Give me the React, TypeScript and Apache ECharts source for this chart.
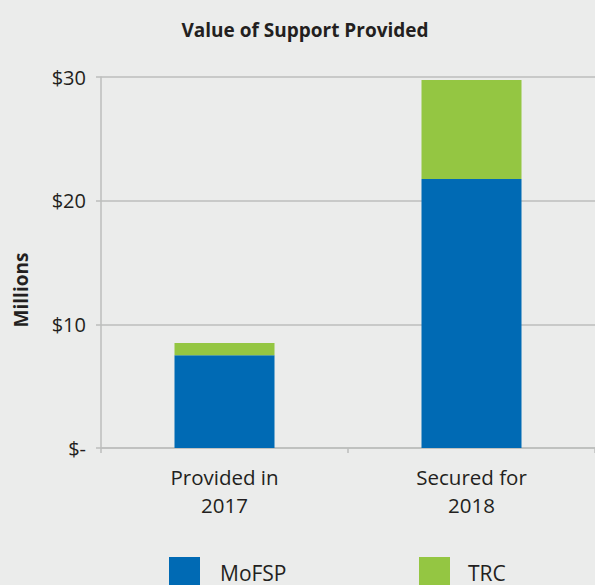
import React, { useEffect, useRef } from "react";
import * as echarts from "echarts";

const categories = ["Provided in\n2017", "Secured for\n2018"];
const mofsp = [7.5, 21.75];
const trc = [1.0, 8.0];
const yTicks = [0, 10, 20, 30];

export default function App() {
  const ref = useRef<HTMLDivElement>(null);
  useEffect(() => {
    if (!ref.current) return;
    const chart = echarts.init(ref.current, null, { renderer: "svg" });
    const font = "'Open Sans', 'Noto Sans', sans-serif";
    chart.setOption({
      animation: false,
      backgroundColor: "#EBECEB",
      textStyle: { fontFamily: font, color: "#231F20" },
      title: {
        text: "Value of Support Provided",
        left: 305,
        textAlign: "center",
        top: 20,
        padding: 0,
        textStyle: { fontFamily: font, fontSize: 19, fontWeight: "bold", color: "#231F20" },
      },
      graphic: [
        {
          type: "text",
          x: 21,
          y: 290,
          rotation: Math.PI / 2,
          style: {
            text: "Millions",
            fontFamily: font,
            fontSize: 19,
            fontWeight: "bold",
            fill: "#231F20",
            align: "center",
            verticalAlign: "middle",
          },
        },
      ],
      grid: { left: 101, top: 77, width: 499, height: 371, containLabel: false },
      legend: [
        {
          data: ["MoFSP"],
          left: 169,
          top: 557,
          padding: 0,
          itemWidth: 31,
          itemHeight: 31,
          icon: "rect",
          textStyle: { fontFamily: font, fontSize: 21, color: "#231F20", padding: [0, 0, 0, 15] },
        },
        {
          data: ["TRC"],
          left: 419,
          top: 557,
          padding: 0,
          itemWidth: 31,
          itemHeight: 31,
          icon: "rect",
          textStyle: { fontFamily: font, fontSize: 21, color: "#231F20", padding: [0, 0, 0, 13] },
        },
      ],
      xAxis: {
        type: "category",
        data: categories,
        axisLine: { lineStyle: { color: "#BDBEBD", width: 1.5 } },
        axisTick: { show: true, length: 5, lineStyle: { color: "#BDBEBD", width: 1.5 } },
        axisLabel: { fontSize: 20.5, color: "#231F20", lineHeight: 28, margin: 15, fontFamily: font },
      },
      yAxis: {
        type: "value",
        min: yTicks[0],
        max: yTicks[yTicks.length - 1],
        interval: 10,
        axisLine: { show: true, lineStyle: { color: "#BDBEBD", width: 1.5 } },
        axisTick: { show: true, length: 5, lineStyle: { color: "#BDBEBD", width: 1.5 } },
        splitLine: { show: true, lineStyle: { color: "#BDBEBD", width: 1.5 } },
        axisLabel: {
          fontSize: 20,
          color: "#231F20",
          margin: 15,
          fontFamily: font,
          formatter: (v: number) => (v === 0 ? "$-" : "$" + v),
        },
      },
      series: [
        {
          name: "MoFSP",
          type: "bar",
          stack: "total",
          data: mofsp,
          barWidth: 100,
          itemStyle: { color: "#006AB4" },
        },
        {
          name: "TRC",
          type: "bar",
          stack: "total",
          data: trc,
          barWidth: 100,
          itemStyle: { color: "#94C642" },
        },
      ],
    });
    return () => chart.dispose();
  }, []);
  return (
    <div
      ref={ref}
      style={{ position: "fixed", left: 0, top: 0, width: 595, height: 585 }}
    />
  );
}
